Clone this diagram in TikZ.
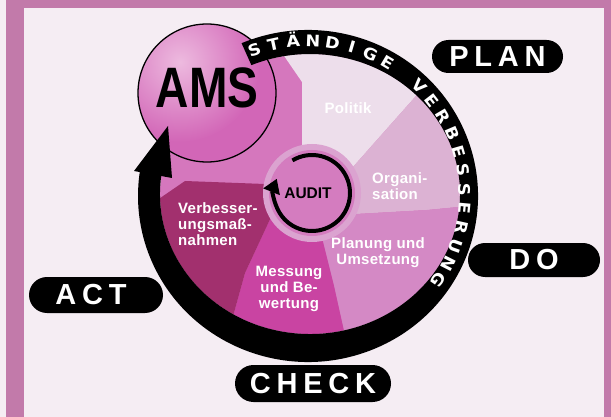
\documentclass[tikz,border=0pt]{standalone}
\usepackage{fontspec}
\usepackage{graphicx}
\setmainfont{Liberation Sans}
\newfontfamily\labfont[LetterSpace=20]{Liberation Sans}
\newfontfamily\segfont[LetterSpace=2]{Liberation Sans}
\newfontfamily\ringfnt{DejaVu Sans}
\usetikzlibrary{arrows.meta,calc}
\definecolor{bgc}{HTML}{F5EDF3}
\definecolor{framec}{HTML}{C27AAA}
\definecolor{tlc}{HTML}{D577BD}
\definecolor{polc}{HTML}{EDDEEB}
\definecolor{orgc}{HTML}{DCB2D3}
\definecolor{planc}{HTML}{D489C5}
\definecolor{messc}{HTML}{C944A2}
\definecolor{verbc}{HTML}{A2306E}
\definecolor{audrim}{HTML}{DBA3D0}
\definecolor{audin}{HTML}{D47CBF}
\definecolor{amsbase}{HTML}{D266B7}
\definecolor{amslight}{HTML}{EDBADF}
\begin{document}
\begin{tikzpicture}[x=1pt,y=-1pt,
  segtext/.style={text=white,font=\segfont\fontsize{15}{16}\selectfont\bfseries,inner sep=0pt},
  pill/.style={fill=black,text=white,inner sep=0pt,font=\labfont\fontsize{29}{29}\selectfont\bfseries},
  ringletter/.style={text=white,inner sep=0pt,text height=11.6pt,text depth=0pt,font=\ringfnt\fontsize{16}{16}\selectfont\bfseries},
]
\useasboundingbox (0,0) rectangle (611,417);
% background and frame
\fill[bgc] (0,0) rectangle (611,417);
\fill[framec] (6,0) rectangle (611,8);
\fill[framec] (6,0) rectangle (24,417);
\fill[framec] (604,0) rectangle (611,417);
% inner disk segments
\begin{scope}
  \clip (310,194) ellipse[x radius=150,y radius=140];
  \fill[tlc] (310,194) ellipse[x radius=152,y radius=142];
  \fill[polc] (312,193) -- (302,148) -- (302,82) -- (280,50) -- (262,0) -- (470,0) -- (470,35) -- (415,97) -- (352,168) -- cycle;
  \fill[orgc] (312,193) -- (352,168) -- (415,97) -- (470,35) -- (530,60) -- (530,200) -- (427,210) -- (356,214) -- cycle;
  \fill[planc] (312,193) -- (356,214) -- (427,210) -- (530,200) -- (530,420) -- (355,420) -- (346,340) -- (334,286) -- (322,238) -- cycle;
  \fill[messc] (312,193) -- (322,238) -- (334,286) -- (346,340) -- (355,420) -- (222,420) -- (232,320) -- (245,273) -- (272,215) -- cycle;
  \fill[verbc] (312,193) -- (272,215) -- (245,273) -- (232,320) -- (222,420) -- (100,420) -- (100,230) -- (150,205) -- (185,181) -- (265,184) -- cycle;
\end{scope}
% AMS circle
\fill[amsbase] (207,93) circle[radius=69];
\begin{scope}
  \clip (207,93) circle[radius=69];
  \shade[inner color=amslight,outer color=amsbase] (180,62) circle[radius=80];
\end{scope}
\draw[black,line width=1.3pt] (207,93) circle[radius=69];
\node (ams) at (207,88) {\scalebox{0.81}[1]{\fontsize{57}{57}\selectfont\bfseries AMS}};
% black ring band with arrow
\fill[black] ([shift={(-113:170 and 166)}]308,196) arc[start angle=-113,end angle=190,x radius=170,y radius=166]
  -- ([shift={(190:150 and 140)}]310,194) arc[start angle=190,end angle=-113,x radius=150,y radius=140] -- cycle;
\fill[black] (134,171) -- (168,126) -- (172,178) -- cycle;
% ring text, letter by letter
\foreach \ch [count=\i] in {S,T,Ä,N,D,I,G,E,{},V,E,R,B,E,S,S,E,R,U,N,G} {
  \pgfmathsetmacro\th{109.4-(\i-1)*7.175}
  \node[ringletter,rotate=\th-90] (ring\i) at ([shift={(-\th:158 and 153)}]307,194) {\scalebox{1.1}[1]{\ch}};
}
% audit
\fill[audrim] (312,193) circle[radius=49];
\fill[audin] (312,193) circle[radius=43];
\draw[black,line width=4pt,-{Triangle[width=17pt,length=14pt]}] ([shift={(-121:38)}]312,193) arc[start angle=-121,end angle=202,radius=38];
\node[font=\fontsize{15.5}{15.5}\selectfont\bfseries,inner sep=0pt] (audit) at (308,193) {AUDIT};
% segment texts
\node[segtext] (politik) at (348,108) {Politik};
\node[segtext,align=left,anchor=west] (org) at (372,186) {Organi-\\sation};
\node[segtext,align=center] (plan) at (378,253) {Planung und\\Umsetzung};
\node[segtext,align=center] (mess) at (289,289) {Messung\\und Be-\\wertung};
\node[segtext,align=left,anchor=west] (verb) at (178,224) {Verbesser-\\ungsmaß-\\nahmen};
% PDCA labels
\node[pill,minimum width=131pt,minimum height=33pt,rounded corners=16.5pt] (planbox) at (497.5,56.5) {PLAN};
\node[pill,minimum width=132pt,minimum height=34pt,rounded corners=17pt] (dobox) at (534,260) {DO};
\node[pill,minimum width=134pt,minimum height=36pt,rounded corners=18pt] (actbox) at (96,295) {ACT\hspace*{10pt}};
\node[pill,minimum width=156pt,minimum height=37pt,rounded corners=18.5pt] (checkbox) at (313,383.5) {CHECK};
\end{tikzpicture}
\end{document}
